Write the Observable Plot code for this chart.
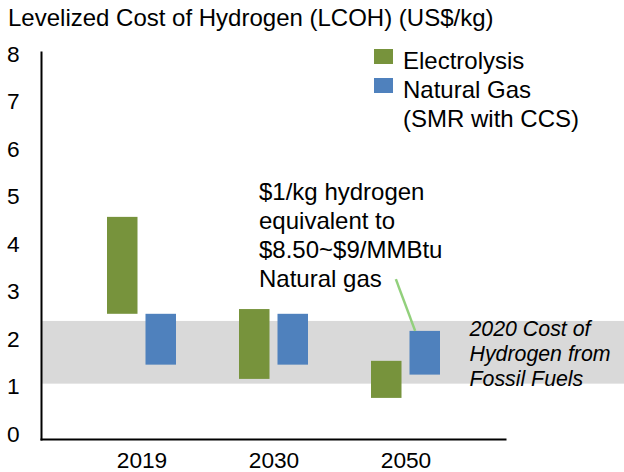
<!DOCTYPE html>
<html>
<head>
<meta charset="utf-8">
<script src="https://cdn.jsdelivr.net/npm/d3@7"></script>
<script src="https://cdn.jsdelivr.net/npm/@observablehq/plot@0.6"></script>
<style>
  body { margin: 0; background: #fff; font-family: "Liberation Sans", Arial, sans-serif; color: #000; }
  #wrap { position: relative; width: 624px; height: 472px; overflow: hidden; }
  #title { height: 40px; line-height: 35px; font-size: 24px; padding-left: 8px; white-space: nowrap; }
  #legend { position: absolute; left: 374px; top: 46px; font-size: 24px; line-height: 29px; }
  .item { position: relative; padding-left: 29px; }
  .sw { position: absolute; left: 0; top: 3px; width: 19px; height: 15px; }
  svg { display: block; }
</style>
</head>
<body>
<div id="wrap">
  <div id="title"></div>
  <div id="chart"></div>
  <div id="legend"></div>
</div>
<script>
// ---- data ----
const titleText = "Levelized Cost of Hydrogen (LCOH) (US$/kg)";
const years = ["2019", "2030", "2050"];
const seriesNames = ["Electrolysis", "Natural Gas\n(SMR with CCS)"];
const seriesColors = ["#77933c", "#4f81bd"];
const electrolysisLow  = [2.53, 1.16, 0.76];
const electrolysisHigh = [4.57, 2.63, 1.54];
const gasLow  = [1.46, 1.46, 1.25];
const gasHigh = [2.53, 2.53, 2.17];
const fossilBand = [1.06, 2.38];
const yTicks = [0, 1, 2, 3, 4, 5, 6, 7, 8];
const annotationText = "$1/kg hydrogen\nequivalent to\n$8.50~$9/MMBtu\nNatural gas";
const bandText = "2020 Cost of\nHydrogen from\nFossil Fuels";

// ---- tables ----
const elecRows = years.map((year, i) => ({year, lo: electrolysisLow[i], hi: electrolysisHigh[i]}));
const gasRows = years.map((year, i) => ({year, lo: gasLow[i], hi: gasHigh[i]}));
const bandRows = [{lo: fossilBand[0], hi: fossilBand[1]}];

document.getElementById("title").textContent = titleText;

const legend = document.getElementById("legend");
seriesNames.forEach((name, i) => {
  const item = document.createElement("div");
  item.className = "item";
  const sw = document.createElement("span");
  sw.className = "sw";
  sw.style.background = seriesColors[i];
  item.appendChild(sw);
  name.split("\n").forEach(line => {
    const d = document.createElement("div");
    d.textContent = line;
    item.appendChild(d);
  });
  legend.appendChild(item);
});

const chart = Plot.plot({
  width: 624,
  height: 432,
  marginLeft: 41,
  marginRight: 119,
  marginTop: 12,
  marginBottom: 33,
  style: {fontFamily: "Liberation Sans, Arial, sans-serif", fontSize: "22.7px", color: "#000", background: "transparent", overflow: "visible"},
  x: {domain: years, paddingInner: 0.4792, paddingOuter: 0.4906, label: null},
  y: {domain: [-0.105, 8.04], label: null},
  marks: [
    Plot.rect(bandRows, {y1: "lo", y2: "hi", fill: "#d9d9d9", insetLeft: 1, insetRight: -119}),
    Plot.barY(elecRows, {x: "year", y1: "lo", y2: "hi", fill: seriesColors[0], insetRight: 38.5}),
    Plot.barY(gasRows, {x: "year", y1: "lo", y2: "hi", fill: seriesColors[1], insetLeft: 38.5}),
    Plot.frame({anchor: "left", stroke: "#000", strokeWidth: 2}),
    Plot.frame({anchor: "bottom", stroke: "#000", strokeWidth: 2}),
    Plot.axisY(yTicks, {tickSize: 0, tickPadding: 22, fontSize: 22.7}),
    Plot.axisX({tickSize: 0, tickPadding: 12, fontSize: 22.7}),
    Plot.text([{year: "2030", label: annotationText}], {
      x: "year", y: 5.367, text: "label", textAnchor: "start", lineAnchor: "top",
      dx: -15, fontSize: 24, lineHeight: 1.2083, fill: "#000"
    }),
    Plot.text([{label: bandText, mid: (fossilBand[0] + fossilBand[1]) / 2}], {
      y: "mid", text: "label", frameAnchor: "right", textAnchor: "start", lineAnchor: "middle",
      dx: -36, fontSize: 21.33, lineHeight: 1.17, fontStyle: "italic", fill: "#000"
    })
  ]
});
document.getElementById("chart").appendChild(chart);

// leader line from the annotation to the 2050 natural gas bar, via the plot's scales
const xs = chart.scale("x"), ys = chart.scale("y");
const b0 = xs.apply("2050"), bw = xs.bandwidth;
d3.select(chart).append("line")
  .attr("x1", b0 + 0.36 * bw).attr("y1", ys.apply(3.26))
  .attr("x2", b0 + 0.64 * bw).attr("y2", ys.apply(gasHigh[2]))
  .attr("stroke", "#92d07c").attr("stroke-width", 2.5);
</script>
</body>
</html>
